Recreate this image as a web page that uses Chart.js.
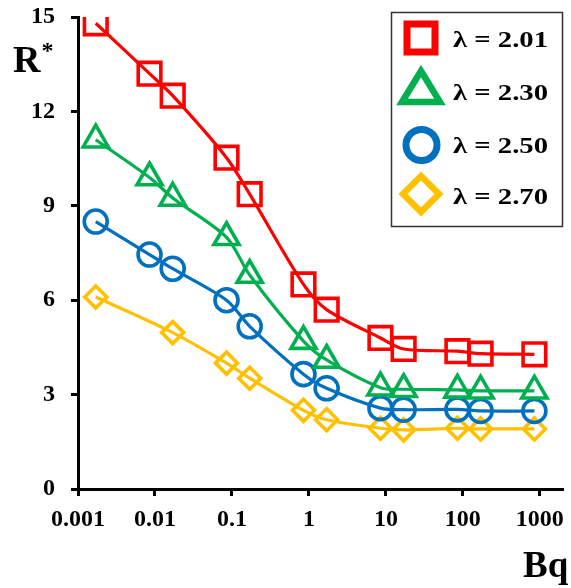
<!DOCTYPE html>
<html><head><meta charset="utf-8">
<script src="https://cdn.jsdelivr.net/npm/chart.js@4/dist/chart.umd.min.js"></script>
<style>html,body{margin:0;padding:0;background:#fff}</style>
</head><body>
<canvas id="c" width="571" height="588"></canvas>
<script>
const seriesLabels = ['λ = 2.01', 'λ = 2.30', 'λ = 2.50', 'λ = 2.70'];
const bqFull = [0.0017, 0.0085, 0.017, 0.085, 0.17, 0.85, 1.7, 8.5, 17, 85, 170, 850];
const bqYellow = [0.0017, 0.017, 0.085, 0.17, 0.85, 1.7, 8.5, 17, 85, 170, 850];
const r201 = [14.8, 13.2, 12.5, 10.53, 9.37, 6.5, 5.7, 4.8, 4.45, 4.38, 4.3, 4.28];
const r230 = [11.1, 9.9, 9.25, 8.0, 6.8, 4.7, 4.1, 3.22, 3.17, 3.15, 3.12, 3.12];
const r250 = [8.5, 7.45, 7.0, 6.0, 5.17, 3.65, 3.2, 2.57, 2.52, 2.53, 2.48, 2.48];
const r270 = [6.1, 4.97, 4.0, 3.52, 2.5, 2.2, 1.93, 1.88, 1.93, 1.91, 1.91];
const xTickValues = [0.001, 0.01, 0.1, 1, 10, 100, 1000];
const xTickLabels = ['0.001', '0.01', '0.1', '1', '10', '100', '1000'];
const yTickLabels = ['0', '3', '6', '9', '12', '15'];

const colors = ['#FF0000', '#00B050', '#0070C0', '#FFC000'];
const styles = ['rect', 'triangle', 'circle', 'rectRot'];
const radii = [16, 14.5, 11.5, 11];
const FONT = '"Liberation Serif", "Times New Roman", serif';

function pts(xs, ys) { return xs.map((x, i) => ({ x: x, y: ys[i] })); }
const seriesData = [pts(bqFull, r201), pts(bqFull, r230), pts(bqFull, r250), pts(bqYellow, r270)];

const datasets = seriesData.map((d, i) => ({
  label: seriesLabels[i],
  data: d,
  showLine: true,
  borderColor: colors[i],
  borderWidth: 3.2,
  tension: 0.3,
  pointStyle: styles[i],
  pointRadius: radii[i],
  pointHoverRadius: radii[i],
  pointBorderWidth: 3.6,
  pointBorderColor: colors[i],
  pointBackgroundColor: 'rgba(0,0,0,0)',
  fill: false
}));

const annot = {
  id: 'annot',
  afterDraw(chart) {
    const ctx = chart.ctx;
    ctx.save();
    ctx.fillStyle = '#000';
    ctx.textBaseline = 'alphabetic';
    ctx.textAlign = 'left';
    ctx.font = 'bold 38px ' + FONT;
    ctx.fillText('R', 13, 72);
    ctx.font = 'bold 24px ' + FONT;
    ctx.fillText('*', 41.5, 58);
    ctx.font = 'bold 37px ' + FONT;
    ctx.fillText('Bq', 523, 577);

    // legend box
    ctx.strokeStyle = '#333';
    ctx.lineWidth = 1.5;
    ctx.strokeRect(391.5, 12.5, 171, 214);

    const rowY = [38, 91, 145, 194];
    const mx = 421;
    ctx.lineJoin = 'miter';
    for (let i = 0; i < 4; i++) {
      const y = rowY[i];
      ctx.strokeStyle = colors[i];
      ctx.lineWidth = 7;
      ctx.beginPath();
      if (i === 0) {
        ctx.rect(mx - 14, y - 14, 28, 28);
      } else if (i === 1) {
        ctx.lineWidth = 6.5;
        ctx.moveTo(mx, y - 20);
        ctx.lineTo(mx + 19, y + 11);
        ctx.lineTo(mx - 19, y + 11);
        ctx.closePath();
      } else if (i === 2) {
        ctx.arc(mx + 0.5, y, 15.5, 0, Math.PI * 2);
      } else {
        ctx.lineWidth = 6.5;
        ctx.moveTo(mx, y - 18);
        ctx.lineTo(mx + 18, y);
        ctx.lineTo(mx, y + 18);
        ctx.lineTo(mx - 18, y);
        ctx.closePath();
      }
      ctx.stroke();

      ctx.fillStyle = '#000';
      ctx.font = 'bold 23px ' + FONT;
      const w = ctx.measureText(seriesLabels[i]).width;
      const sx = 95 / w;
      ctx.save();
      ctx.translate(453, [46.7, 100, 153, 204][i]);
      ctx.scale(sx, 1);
      ctx.fillText(seriesLabels[i], 0, 0);
      ctx.restore();
    }
    ctx.restore();
  }
};

new Chart(document.getElementById('c'), {
  type: 'scatter',
  data: { datasets: datasets },
  plugins: [annot],
  options: {
    responsive: false,
    animation: false,
    devicePixelRatio: 1,
    layout: { autoPadding: false, padding: { top: 17, right: 8, left: 0, bottom: 0 } },
    plugins: { legend: { display: false }, tooltip: { enabled: false } },
    scales: {
      x: {
        type: 'logarithmic',
        min: 0.001,
        max: 2000,
        afterBuildTicks: s => { s.ticks = xTickValues.map(v => ({ value: v })); },
        afterFit: s => { s.height = 99; s.paddingLeft = 0; s.paddingRight = 0; },
        ticks: {
          callback: (v, i) => xTickLabels[i],
          font: { family: FONT, size: 24, weight: 'bold' },
          color: '#000',
          padding: 9,
          maxRotation: 0,
          autoSkip: false
        },
        grid: { display: true, drawOnChartArea: false, drawTicks: true, tickLength: 7, tickWidth: 3, tickColor: '#000' },
        border: { display: true, color: '#000', width: 3 }
      },
      y: {
        type: 'linear',
        min: 0,
        max: 15,
        afterFit: s => { s.width = 78; s.paddingTop = 0; s.paddingBottom = 0; },
        ticks: {
          stepSize: 3,
          callback: (v, i) => yTickLabels[i],
          font: { family: FONT, size: 24, weight: 'bold' },
          color: '#000',
          padding: 16
        },
        grid: { display: true, drawOnChartArea: false, drawTicks: true, tickLength: 7, tickWidth: 3, tickColor: '#000' },
        border: { display: true, color: '#000', width: 3 }
      }
    }
  }
});
</script>
</body></html>
